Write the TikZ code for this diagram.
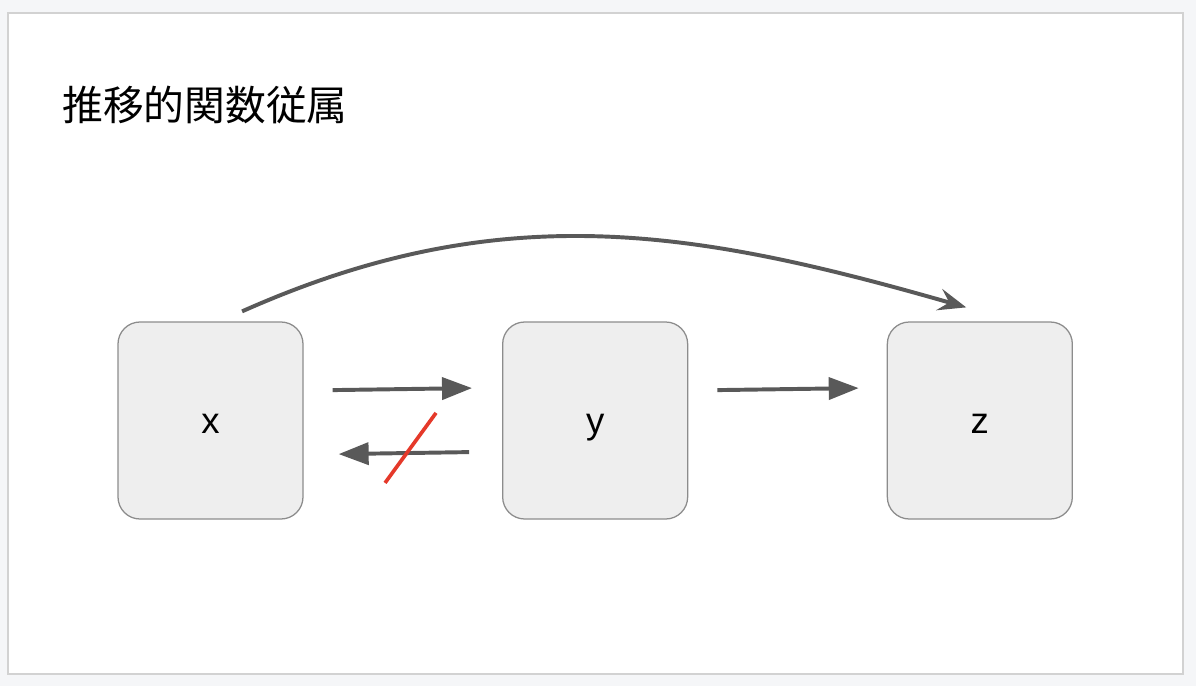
\documentclass[tikz,border=0pt]{standalone}
\usepackage{fontspec}
\usepackage{xcolor}
\usepackage{tikz}
\usetikzlibrary{positioning,arrows.meta}
\newfontfamily\labelfont{Liberation Sans}
\newfontfamily\cjkfont{Noto Sans CJK JP}
\definecolor{pagebg}{HTML}{F5F6F8}
\definecolor{pageline}{HTML}{D2D2D2}
\definecolor{boxfill}{HTML}{EEEEEE}
\definecolor{boxline}{HTML}{8C8C8C}
\definecolor{arrowgray}{HTML}{595959}
\definecolor{slashred}{HTML}{E5392A}
\tikzset{
  attr/.style={draw=boxline, fill=boxfill, line width=0.9pt, rounded corners=5.5mm, minimum width=46.25mm, minimum height=49.25mm,
    font=\labelfont\fontsize{26}{30}\selectfont, text height=23.5pt, text depth=5.5pt, inner sep=0pt},
  dep/.style={arrowgray, line width=2.8pt, -{Triangle[length=7.5mm,width=5.5mm]}},
  transdep/.style={arrowgray, line width=2.8pt, -{Stealth[length=7mm,width=5.5mm,inset=2.6mm]}},
  cancel/.style={slashred, line width=2.6pt}
}

\begin{document}
\begin{tikzpicture}[node distance=49.6mm]
  \useasboundingbox[fill=pagebg] (0,0) rectangle (29.9,-17.15);
  \draw[pageline, fill=white, line width=1.4pt] (0.2,-0.325) rectangle (29.575,-16.85);

  \node[anchor=base west, inner sep=0pt, font=\cjkfont\fontsize{29}{33}\selectfont] (title) at (1.55,-3.02) {推移的関数従属};

  \node[attr] (x) at (5.2625,-10.5125) {x};
  \node[attr, right=of x] (y) {y};
  \node[attr, right=of y] (z) {z};

  \draw[dep] ([xshift=7.25mm, yshift=7.6mm]x.east) -- ([xshift=-7.5mm, yshift=8.1mm]y.west);
  \draw[dep] ([xshift=-8.25mm, yshift=-7.9mm]y.west) -- ([xshift=8.75mm, yshift=-8.4mm]x.east);
  \draw[dep] ([xshift=7.25mm, yshift=7.6mm]y.east) -- ([xshift=-7mm, yshift=8.1mm]z.west);
  \draw[transdep] ([xshift=7.9mm, yshift=2.5mm]x.north) to[out=24, in=164] ([xshift=-3.4mm, yshift=3.5mm]z.north);

  \draw[cancel] ([xshift=-29.25mm, yshift=-15.6mm]y.west) -- ([xshift=-16.5mm, yshift=1.9mm]y.west);
\end{tikzpicture}
\end{document}
